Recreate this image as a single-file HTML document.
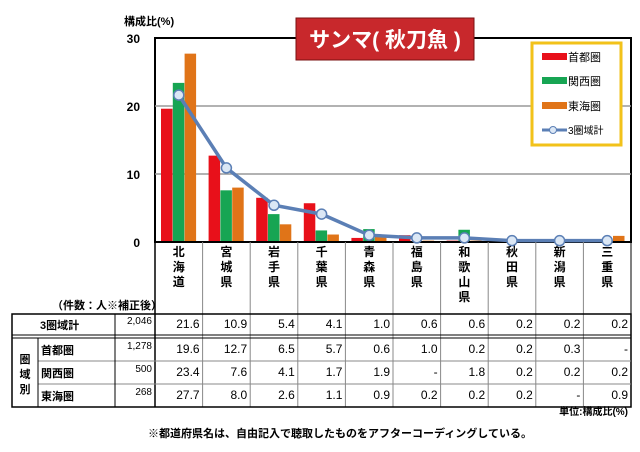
<!DOCTYPE html>
<html><head><meta charset="utf-8"><style>
body{margin:0;background:#fff;width:640px;height:452px;overflow:hidden;font-family:"Liberation Sans","Noto Sans CJK JP",sans-serif}
svg{position:absolute;left:0;top:0}
</style></head><body>
<svg id="s" width="640" height="452" xmlns="http://www.w3.org/2000/svg" font-family="Liberation Sans, Noto Sans CJK JP, sans-serif"></svg>
<script>
const s=document.getElementById('s');let h='';
const X0=155,X1=631,Y0=242,k=6.8,cw=(X1-X0)/10;
const y=v=>Y0-v*k;
h+=`<rect x="${X0}" y="${y(30)}" width="${X1-X0}" height="${Y0-y(30)}" fill="none" stroke="#000" stroke-width="2"/>`;
[10,20].forEach(v=>h+=`<line x1="${X0}" x2="${X1}" y1="${y(v)}" y2="${y(v)}" stroke="#999" stroke-width="1.5"/>`);
[0,10,20,30].forEach(v=>h+=`<text x="140" y="${y(v)+5}" font-size="12" font-weight="bold" text-anchor="end">${v}</text>`);
h+=`<text x="124" y="25" font-size="11" font-weight="bold">構成比(%)</text>`;
const tot=[21.6,10.9,5.4,4.1,1.0,0.6,0.6,0.2,0.2,0.2];
const sh=[19.6,12.7,6.5,5.7,0.6,1.0,0.2,0.2,0.3,0];
const ka=[23.4,7.6,4.1,1.7,1.9,0,1.8,0.2,0.2,0.2];
const to=[27.7,8.0,2.6,1.1,0.9,0.2,0.2,0.2,0,0.9];
const cols=['#e8101a','#17a553','#e07418'];
for(let i=0;i<10;i++){const cx=X0+i*cw;[sh,ka,to].forEach((a,j)=>{if(a[i]>0)h+=`<rect x="${cx+6+j*11.8}" y="${y(a[i])}" width="11.5" height="${a[i]*k}" fill="${cols[j]}"/>`;});}
h+=`<line x1="${X0}" x2="${X1}" y1="${Y0}" y2="${Y0}" stroke="#000" stroke-width="2"/>`;
let pts=tot.map((v,i)=>`${X0+cw*(i+0.5)},${y(v)}`).join(' ');
h+=`<polyline points="${pts}" fill="none" stroke="#5b7fb5" stroke-width="3.5"/>`;
tot.forEach((v,i)=>h+=`<circle cx="${X0+cw*(i+0.5)}" cy="${y(v)}" r="5" fill="#dbe7f5" stroke="#5b7fb5" stroke-width="1.5"/>`);
h+=`<rect x="296" y="18" width="178" height="42" fill="#c8282c" stroke="#7a1010"/><text x="385" y="47" font-size="21" font-weight="bold" fill="#fff" text-anchor="middle">サンマ( 秋刀魚 )</text>`;
h+=`<rect x="532" y="43" width="89" height="102" fill="#fff" stroke="#f2c21a" stroke-width="3"/>`;
['首都圏','関西圏','東海圏'].forEach((t,j)=>{const yy=[56,80,105][j];h+=`<rect x="542" y="${yy-3}" width="25" height="7" fill="${cols[j]}"/><text x="568" y="${yy+5}" font-size="11">${t}</text>`;});
h+=`<line x1="542" x2="567" y1="130" y2="130" stroke="#5b7fb5" stroke-width="3"/><circle cx="553" cy="130" r="3.5" fill="#dbe7f5" stroke="#5b7fb5"/><text x="568" y="134" font-size="10">3圏域計</text>`;
const names=['北海道','宮城県','岩手県','千葉県','青森県','福島県','和歌山県','秋田県','新潟県','三重県'];
for(let i=0;i<=10;i++){const xx=X0+i*cw;h+=`<line x1="${xx}" x2="${xx}" y1="242" y2="407" stroke="${i==0||i==10?'#000':'#888'}" stroke-width="${i==0?1.5:1}"/>`;}
names.forEach((n,i)=>{[...n].forEach((c,j)=>h+=`<text x="${X0+cw*(i+0.5)}" y="${256+j*15}" font-size="12" font-weight="bold" text-anchor="middle">${c}</text>`);});
h+=`<text x="52" y="309" font-size="11" font-weight="bold">（件数：人※補正後）</text>`;
const L=12;
h+=`<rect x="${L}" y="314" width="${X1-L}" height="93" fill="none" stroke="#000" stroke-width="1.5"/>`;
h+=`<line x1="${L}" x2="${X1}" y1="335" y2="335" stroke="#000"/><line x1="${L}" x2="${X1}" y1="338" y2="338" stroke="#000"/>`;
h+=`<line x1="38" x2="${X1}" y1="361" y2="361" stroke="#888"/><line x1="38" x2="${X1}" y1="384" y2="384" stroke="#888"/>`;
h+=`<line x1="38" x2="38" y1="338" y2="407" stroke="#000"/><line x1="115" x2="115" y1="314" y2="407" stroke="#000"/>`;
const raw=[tot.map(v=>v.toFixed(1)),['19.6','12.7','6.5','5.7','0.6','1.0','0.2','0.2','0.3','-'],['23.4','7.6','4.1','1.7','1.9','-','1.8','0.2','0.2','0.2'],['27.7','8.0','2.6','1.1','0.9','0.2','0.2','0.2','-','0.9']];
const rows=[['3圏域計','2,046',329,40],['首都圏','1,278',354,41],['関西圏','500',377,41],['東海圏','268',400,41]];
rows.forEach((r,ri)=>{h+=`<text x="${r[3]}" y="${r[2]}" font-size="11" font-weight="bold">${r[0]}</text><text x="152" y="${r[2]-5}" font-size="10" text-anchor="end">${r[1]}</text>`;
raw[ri].forEach((t,i)=>h+=`<text x="${X0+cw*(i+1)-3}" y="${r[2]-1}" font-size="12" text-anchor="end">${t}</text>`);});
['圏','域','別'].forEach((c,j)=>h+=`<text x="25" y="${363+j*15}" font-size="11" font-weight="bold" text-anchor="middle">${c}</text>`);
h+=`<text x="628" y="415" font-size="10" font-weight="bold" text-anchor="end">単位:構成比(%)</text>`;
h+=`<text x="340" y="437" font-size="11" font-weight="bold" text-anchor="middle">※都道府県名は、自由記入で聴取したものをアフターコーディングしている。</text>`;
s.innerHTML=h;
</script>
</body></html>
